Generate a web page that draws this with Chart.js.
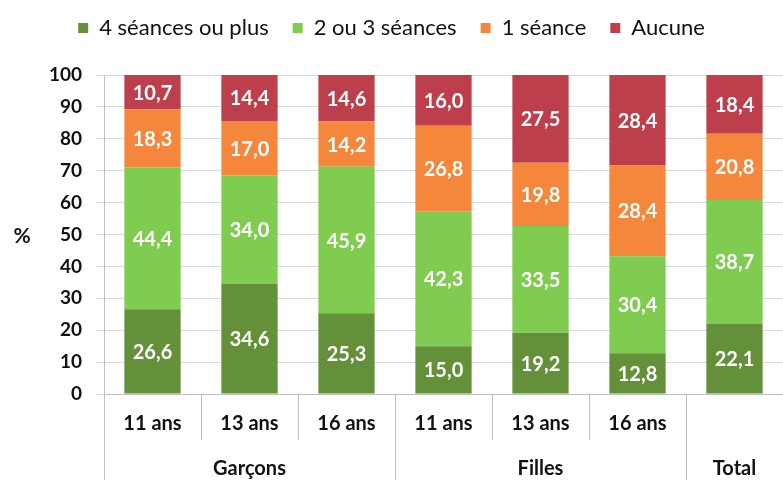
<!DOCTYPE html>
<html>
<head>
<meta charset="utf-8">
<script src="https://cdn.jsdelivr.net/npm/chart.js@4.4.1/dist/chart.umd.min.js"></script>
<style>
  html, body { margin: 0; padding: 0; background: #fff; }
  #wrap { width: 783px; height: 480px; }
</style>
</head>
<body>
<div id="wrap"><canvas id="chart"></canvas></div>
<script>
const ages = ['11 ans', '13 ans', '16 ans', '11 ans', '13 ans', '16 ans', ''];
const groups = ['Garçons', 'Filles', 'Total'];
const groupSpans = [3, 3, 1];
const seriesNames = ['4 séances ou plus', '2 ou 3 séances', '1 séance', 'Aucune'];
const fourPlus = [26.6, 34.6, 25.3, 15.0, 19.2, 12.8, 22.1];
const twoThree = [44.4, 34.0, 45.9, 42.3, 33.5, 30.4, 38.7];
const oneSession = [18.3, 17.0, 14.2, 26.8, 19.8, 28.4, 20.8];
const none = [10.7, 14.4, 14.6, 16.0, 27.5, 28.4, 18.4];
const yTicks = [0, 10, 20, 30, 40, 50, 60, 70, 80, 90, 100];

const colors = ['#65903a', '#7fcc50', '#f4873c', '#bd3f4c'];
const FONT = 'Lato, "Open Sans", sans-serif';
const gridColor = '#d9d9d9';
const axisColor = '#bfbfbf';

// make room between the legend and the plot
const legendGap = {
  id: 'legendGap',
  beforeInit(chart) {
    const fit = chart.legend.fit;
    chart.legend.fit = function () {
      fit.call(this);
      this.height += 26;
    };
  }
};

// values inside the bars
const barLabels = {
  id: 'barLabels',
  afterDatasetsDraw(chart) {
    const ctx = chart.ctx;
    ctx.save();
    ctx.fillStyle = '#fff';
    ctx.font = 'bold 20px ' + FONT;
    ctx.textAlign = 'center';
    ctx.textBaseline = 'middle';
    chart.data.datasets.forEach((ds, i) => {
      chart.getDatasetMeta(i).data.forEach((bar, j) => {
        const mid = (bar.y + bar.base) / 2;
        ctx.fillText(ds.data[j].toFixed(1).replace('.', ','), bar.x, mid + 1);
      });
    });
    ctx.restore();
  }
};

// group labels, long separators and the "%" title
const groupAxis = {
  id: 'groupAxis',
  afterDraw(chart) {
    const ctx = chart.ctx;
    const x = chart.scales.x;
    const area = chart.chartArea;
    const step = x.getPixelForValue(1) - x.getPixelForValue(0);
    ctx.save();
    ctx.strokeStyle = axisColor;
    ctx.lineWidth = 1;
    ctx.fillStyle = '#111';
    ctx.font = 'bold 20px ' + FONT;
    ctx.textAlign = 'center';
    ctx.textBaseline = 'middle';
    let start = 0;
    groups.forEach((g, i) => {
      const left = x.getPixelForValue(start) - step / 2;
      const right = x.getPixelForValue(start + groupSpans[i] - 1) + step / 2;
      const lx = Math.round(left) + 0.5;
      ctx.beginPath();
      ctx.moveTo(lx, area.bottom);
      ctx.lineTo(lx, chart.height);
      ctx.stroke();
      ctx.fillText(g, (left + right) / 2, 469);
      start += groupSpans[i];
    });
    ctx.font = 'bold 21px ' + FONT;
    ctx.fillText('%', 22, (area.top + area.bottom) / 2 + 2);
    ctx.restore();
  }
};

new Chart(document.getElementById('chart'), {
  type: 'bar',
  data: {
    labels: ages,
    datasets: [
      { label: seriesNames[0], data: fourPlus, backgroundColor: colors[0] },
      { label: seriesNames[1], data: twoThree, backgroundColor: colors[1] },
      { label: seriesNames[2], data: oneSession, backgroundColor: colors[2] },
      { label: seriesNames[3], data: none, backgroundColor: colors[3] },
    ],
  },
  options: {
    responsive: true,
    maintainAspectRatio: false,
    animation: false,
    categoryPercentage: 1,
    barPercentage: 0.58,
    layout: { padding: { top: -7, left: 0, right: 0, bottom: 0 } },
    plugins: {
      tooltip: { enabled: false },
      legend: {
        position: 'top',
        labels: {
          boxWidth: 10,
          boxHeight: 10,
          padding: 24,
          color: '#111',
          font: { family: FONT, size: 22 },
        },
      },
    },
    scales: {
      x: {
        stacked: true,
        border: { color: axisColor },
        grid: {
          offset: true,
          drawOnChartArea: false,
          color: axisColor,
          tickLength: 46,
        },
        ticks: {
          color: '#111',
          font: { family: FONT, size: 20, weight: 'bold' },
          padding: -28,
          maxRotation: 0,
        },
        afterFit(scale) { scale.height = 86; },
      },
      y: {
        stacked: true,
        min: 0,
        max: 100,
        afterBuildTicks(scale) { scale.ticks = yTicks.map(v => ({ value: v })); },
        border: { color: axisColor },
        grid: { color: gridColor, tickLength: 8 },
        ticks: {
          color: '#111',
          padding: 14,
          font: { family: FONT, size: 19, weight: 'bold' },
        },
        afterFit(scale) { scale.width = 104; },
      },
    },
  },
  plugins: [legendGap, barLabels, groupAxis],
});
</script>
</body>
</html>
